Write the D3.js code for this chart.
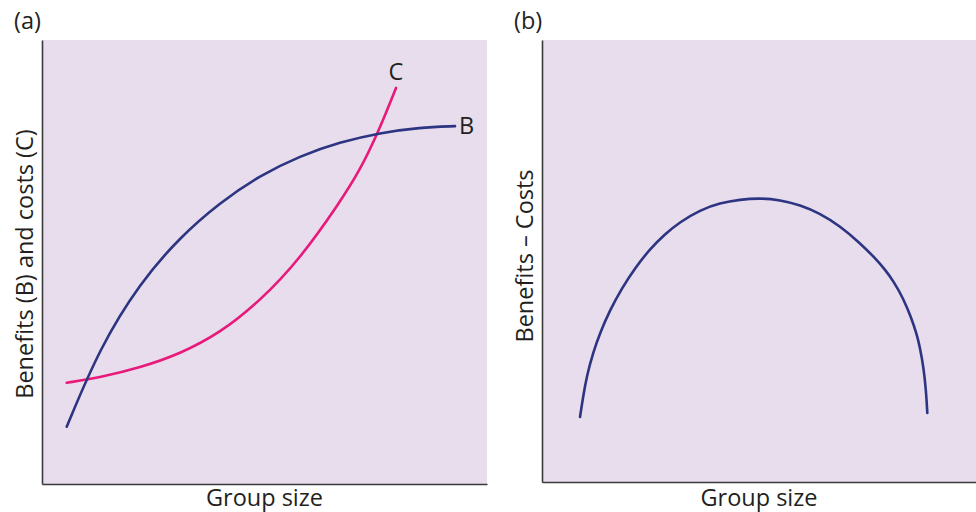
<!DOCTYPE html>
<html>
<head>
<meta charset="utf-8">
<script src="https://cdn.jsdelivr.net/npm/d3@7"></script>
<style>
  html, body { margin: 0; padding: 0; background: #fff; }
  svg { display: block; }
  text { font-family: "Open Sans", "Noto Sans", sans-serif; fill: #231f20; }
</style>
</head>
<body>
<svg id="chart" width="976" height="512"></svg>
<script>
// ---- Data (normalized 0–100 units on both axes) ----
const benefitsX = [5.55, 13.03, 22.02, 31.01, 40.0, 48.99, 57.98, 66.97, 75.96, 84.94, 92.81];
const benefitsY = [12.9, 30.8, 45.3, 55.6, 63.4, 69.5, 73.9, 77.0, 79.1, 80.3, 80.6];

const costsX = [5.55, 13.03, 22.02, 31.01, 40.0, 48.99, 57.98, 66.97, 71.46, 75.51, 79.55];
const costsY = [22.8, 24.0, 26.2, 29.3, 34.0, 41.2, 50.7, 63.5, 70.7, 79.1, 89.2];

const netX = [8.76, 9.45, 10.37, 11.75, 13.36, 15.67, 18.43, 21.43, 24.88, 28.34, 31.80, 36.41, 41.01, 45.62, 50.23,
              54.84, 59.45, 64.06, 68.66, 73.27, 76.73, 79.03, 81.11, 83.18, 85.02, 86.41, 87.10, 87.90, 88.48, 88.78];
const netY = [14.71, 19.23, 24.21, 29.19, 33.71, 38.91, 43.89, 48.42, 52.71, 56.11, 58.82, 61.54, 63.12, 63.91, 64.25,
              63.80, 62.67, 60.75, 57.92, 54.07, 50.68, 48.08, 45.25, 41.63, 37.33, 33.26, 30.32, 26.02, 20.81, 15.61];

const panelLabels = ["(a)", "(b)"];
const xTitles = ["Group size", "Group size"];
const yTitles = ["Benefits (B) and costs (C)", "Benefits – Costs"];
const seriesLabels = ["B", "C"];

// ---- Layout ----
const svg = d3.select("#chart");
const panels = [
  { x0: 42, x1: 487, y0: 40, y1: 484, yTitleC: 264 },
  { x0: 542, x1: 976, y0: 40, y1: 482, yTitleC: 256 }
];
const bg = "#e7ddec";
const blue = "#2d3482";
const pink = "#e8197b";
const fs = 23.5;

panels.forEach((p, i) => {
  const g = svg.append("g");
  const x = d3.scaleLinear().domain([0, 100]).range([p.x0, p.x1]);
  const y = d3.scaleLinear().domain([0, 100]).range([p.y1, p.y0]);
  p.x = x; p.y = y; p.g = g;

  g.append("rect")
    .attr("x", p.x0).attr("y", p.y0)
    .attr("width", p.x1 - p.x0).attr("height", p.y1 - p.y0)
    .attr("fill", bg);

  // axes (no ticks)
  g.append("g").attr("transform", `translate(0,${p.y1})`)
    .call(d3.axisBottom(x).tickValues([]).tickSizeOuter(0))
    .call(s => s.select(".domain").attr("stroke", "#3a3a3a").attr("stroke-width", 1.6));
  g.append("g").attr("transform", `translate(${p.x0},0)`)
    .call(d3.axisLeft(y).tickValues([]).tickSizeOuter(0))
    .call(s => s.select(".domain").attr("stroke", "#3a3a3a").attr("stroke-width", 1.6));

  g.append("text")
    .attr("x", p.x0 - 28).attr("y", 29)
    .attr("font-size", fs)
    .text(panelLabels[i]);

  g.append("text")
    .attr("x", (p.x0 + p.x1) / 2).attr("y", 506)
    .attr("text-anchor", "middle")
    .attr("font-size", fs)
    .text(xTitles[i]);

  g.append("text")
    .attr("transform", `translate(${p.x0 - 9},${p.yTitleC}) rotate(-90)`)
    .attr("text-anchor", "middle")
    .attr("font-size", fs)
    .text(yTitles[i]);
});

function drawLine(p, xs, ys, color) {
  const data = xs.map((v, k) => [v, ys[k]]);
  const line = d3.line()
    .x(d => p.x(d[0])).y(d => p.y(d[1]))
    .curve(d3.curveBasis);
  p.g.append("path")
    .datum(data)
    .attr("d", line)
    .attr("fill", "none")
    .attr("stroke", color)
    .attr("stroke-width", 2.6)
    .attr("stroke-linecap", "round");
}

const pa = panels[0], pb = panels[1];
drawLine(pa, costsX, costsY, pink);
drawLine(pa, benefitsX, benefitsY, blue);
drawLine(pb, netX, netY, blue);

// Series labels
pa.g.append("text")
  .attr("x", pa.x(benefitsX[benefitsX.length - 1]) + 4)
  .attr("y", pa.y(benefitsY[benefitsY.length - 1]) + 8)
  .attr("font-size", fs)
  .text(seriesLabels[0]);
pa.g.append("text")
  .attr("x", pa.x(costsX[costsX.length - 1]))
  .attr("y", pa.y(costsY[costsY.length - 1]) - 8)
  .attr("text-anchor", "middle")
  .attr("font-size", fs)
  .text(seriesLabels[1]);
</script>
</body>
</html>
